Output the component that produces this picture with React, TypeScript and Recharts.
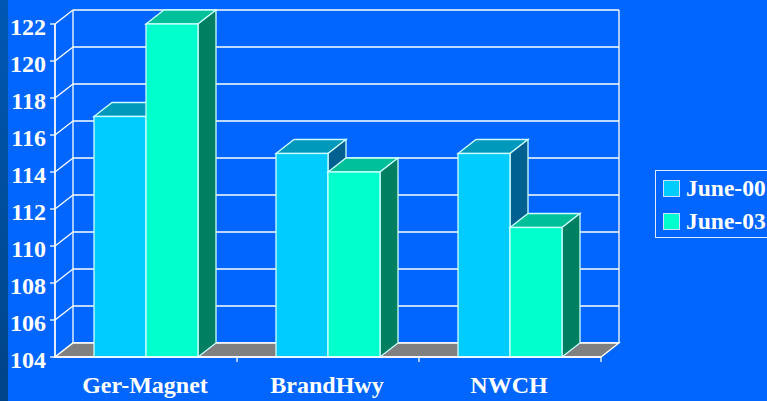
import React from 'react';
import { BarChart, Bar, XAxis, YAxis, CartesianGrid, Legend, usePlotArea } from 'recharts';

const categories = ['Ger-Magnet', 'BrandHwy', 'NWCH'];
const june00 = [117, 115, 115];
const june03 = [122, 114, 111];
const yTicks = [104, 106, 108, 110, 112, 114, 116, 118, 120, 122];

const chartData = categories.map((name, i) => ({ name, 'June-00': june00[i], 'June-03': june03[i] }));

const BG = '#0066ff';
const FONT = '"Liberation Serif", "Times New Roman", serif';
const LINE = '#ffffff';
const LINE_W = 1.3;
// depth of the fake 3d box
const DX = 18;
const DY = 14;

function Walls() {
  const plot = usePlotArea();
  if (!plot) return null;
  const { x, y, width, height } = plot;
  const bottom = y + height;
  const right = x + width;
  return (
    <g>
      <polygon
        points={`${x},${bottom} ${x + DX},${bottom - DY} ${right + DX},${bottom - DY} ${right},${bottom}`}
        fill="#808080"
        stroke={LINE}
        strokeWidth={LINE_W}
      />
      <line x1={x + DX} y1={y - DY} x2={x + DX} y2={bottom - DY} stroke={LINE} strokeWidth={LINE_W} />
      <line x1={right + DX} y1={y - DY} x2={right + DX} y2={bottom - DY} stroke={LINE} strokeWidth={LINE_W} />
      <line x1={x} y1={y} x2={x} y2={bottom} stroke={LINE} strokeWidth={LINE_W} />
    </g>
  );
}

function gridLine(props: any) {
  const { x1, x2, y1, y2, index } = props;
  return (
    <g key={`grid-${index}`}>
      <line x1={x1} y1={y1} x2={x1 + DX} y2={y1 - DY} stroke={LINE} strokeWidth={LINE_W} />
      <line x1={x1 + DX} y1={y1 - DY} x2={x2 + DX} y2={y2 - DY} stroke={LINE} strokeWidth={LINE_W} />
    </g>
  );
}

function makeBox(front: string, top: string, side: string) {
  return (props: any) => {
    const { x, y, width, height } = props;
    const r = x + width;
    const b = y + height;
    return (
      <g stroke="#ccffff" strokeWidth={LINE_W}>
        <polygon points={`${x},${y} ${x + DX},${y - DY} ${r + DX},${y - DY} ${r},${y}`} fill={top} />
        <polygon points={`${r},${y} ${r + DX},${y - DY} ${r + DX},${b - DY} ${r},${b}`} fill={side} />
        <rect x={x} y={y} width={width} height={height} fill={front} />
      </g>
    );
  };
}

function CategoryTick(props: any) {
  const { x, y, payload } = props;
  return (
    <g>
      <line x1={x + 91} y1={y - 8} x2={x + 91} y2={y - 3} stroke={LINE} strokeWidth={LINE_W} />
      <text x={x - 1} y={y + 28} textAnchor="middle" fill="#ffffff" fontFamily={FONT} fontWeight="bold" fontSize={24}>
        {payload.value}
      </text>
    </g>
  );
}

function ValueTick(props: any) {
  const { x, y, payload } = props;
  return (
    <text x={x} y={y + 11} textAnchor="end" fill="#ffffff" fontFamily={FONT} fontWeight="bold" fontSize={24}>
      {payload.value}
    </text>
  );
}

function LegendBox({ payload }: any) {
  return (
    <div style={{ border: '1px solid #dfeaff', width: 130, height: 66, boxSizing: 'content-box', position: 'relative' }}>
      {(payload || []).map((item: any, i: number) => (
        <div key={item.value} style={{ position: 'absolute', left: 7, top: 9 + i * 33, display: 'flex', alignItems: 'center', height: 17 }}>
          <span style={{ display: 'block', width: 15, height: 15, background: item.color, border: '1px solid #cfe0ff' }} />
          <span style={{ marginLeft: 6, color: '#fff', fontFamily: FONT, fontWeight: 'bold', fontSize: 23.5, lineHeight: '17px', whiteSpace: 'nowrap' }}>
            {item.value}
          </span>
        </div>
      ))}
    </div>
  );
}

export default function App() {
  return (
    <div style={{ position: 'absolute', left: 0, top: 0, width: 767, height: 401, overflow: 'hidden', background: BG }}>
      <div style={{ position: 'absolute', left: 0, top: 0, width: 8, height: 401, background: 'linear-gradient(#0058b4, #004488)' }} />
      <BarChart
        width={767}
        height={401}
        data={chartData}
        margin={{ top: 24, right: 166, bottom: 0, left: 0 }}
        barGap={0}
        barSize={52}
        style={{ position: 'absolute', left: 0, top: 0 }}
      >
        <Walls />
        <CartesianGrid vertical={false} horizontal={gridLine} />
        <XAxis
          dataKey="name"
          interval={0}
          axisLine={{ stroke: LINE, strokeWidth: LINE_W }}
          tickLine={false}
          tick={<CategoryTick />}
          height={44}
        />
        <YAxis
          type="number"
          domain={[104, 122]}
          ticks={yTicks}
          width={55}
          interval={0}
          axisLine={{ stroke: LINE, strokeWidth: LINE_W }}
          tickLine={{ stroke: LINE, strokeWidth: LINE_W }}
          tickSize={5}
          tickMargin={4}
          tick={<ValueTick />}
        />
        <Legend
          layout="vertical"
          verticalAlign="middle"
          align="center"
          content={<LegendBox />}
          wrapperStyle={{ left: 655, top: 170, width: 132 }}
        />
        <Bar dataKey="June-00" fill="#00ccff" isAnimationActive={false} shape={makeBox('#00ccff', '#0099bb', '#006090')} />
        <Bar dataKey="June-03" fill="#00ffcc" isAnimationActive={false} shape={makeBox('#00ffcc', '#00c09a', '#008060')} />
      </BarChart>
    </div>
  );
}
